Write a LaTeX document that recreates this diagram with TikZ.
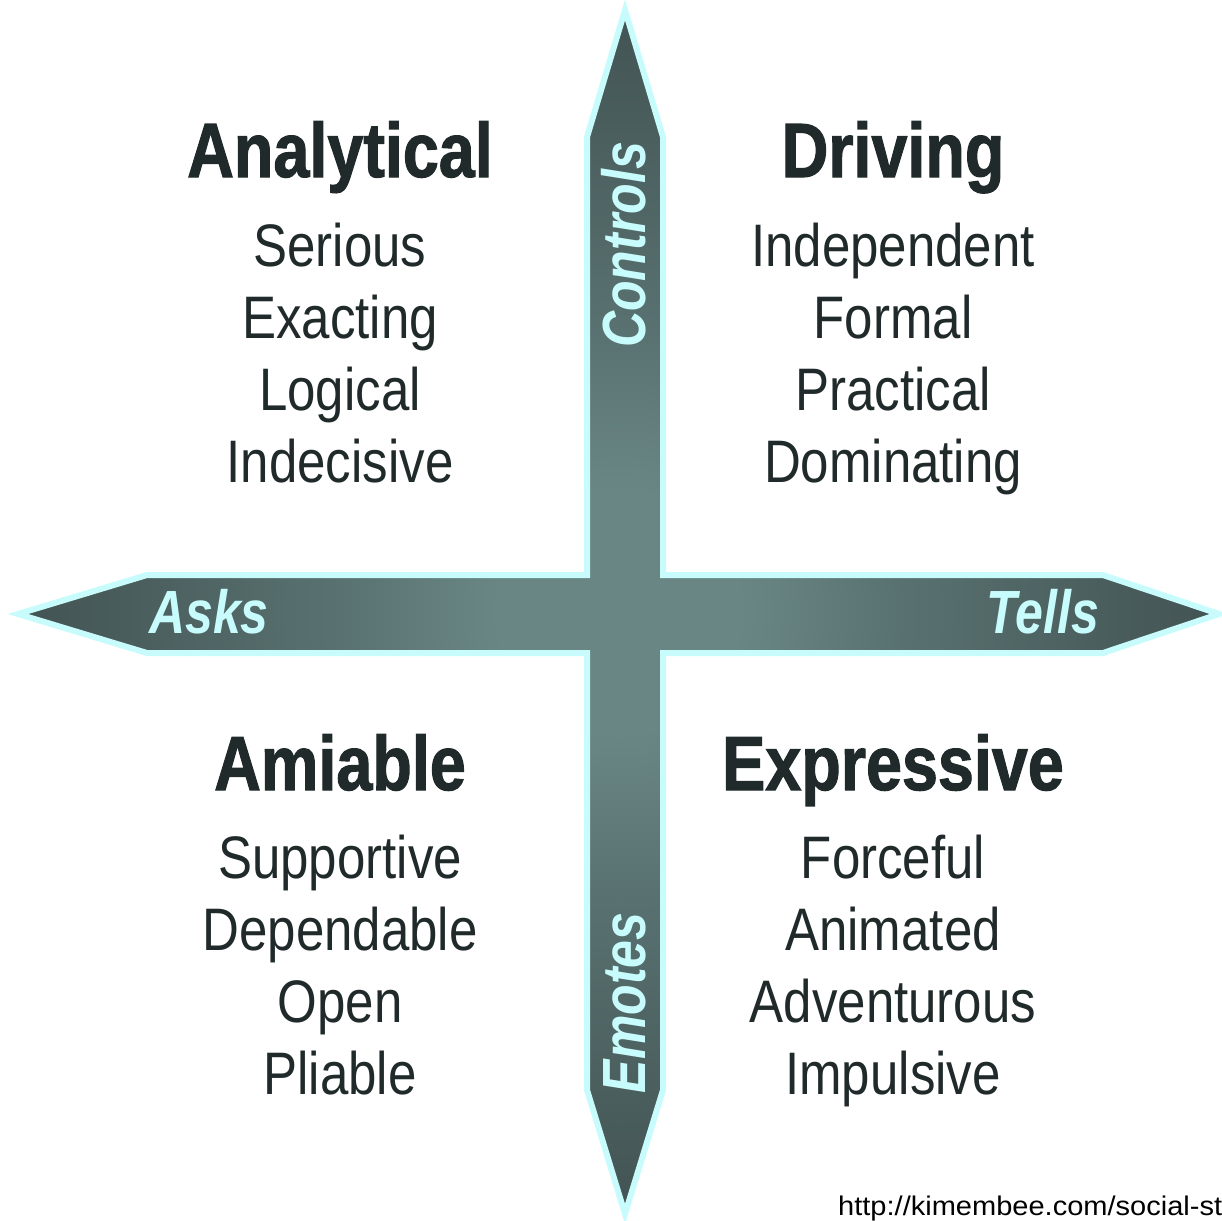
\documentclass[tikz,border=0pt]{standalone}
\usepackage{fontspec}
\setmainfont{Liberation Sans}
\newfontfamily\itemfont[FakeStretch=0.85]{Liberation Sans}
\newfontfamily\headfont[FakeStretch=0.84,FakeBold=1.4]{Liberation Sans}
\newfontfamily\axisfont[FakeStretch=0.82]{Liberation Sans}
\newfontfamily\urlfont[FakeStretch=1.075]{Liberation Sans}
\definecolor{cin}{HTML}{698685}
\definecolor{cmid}{HTML}{587170}
\definecolor{cout}{HTML}{445555}
\definecolor{rim}{HTML}{C8FCFC}
\definecolor{ink}{HTML}{202A2A}
\pgfdeclareradialshading{crossshade}{\pgfpoint{0bp}{0bp}}{color(0bp)=(cin); color(5bp)=(cin); color(12bp)=(cmid); color(24bp)=(cout); color(50bp)=(cout)}
\tikzset{
  heading/.style={anchor=base, text=ink, font=\headfont\bfseries\fontsize{77}{80}\selectfont},
  trait/.style={anchor=base, text=ink, font=\itemfont\fontsize{60}{72}\selectfont},
  axislabel/.style={anchor=base, text=rim, font=\axisfont\bfseries\itshape\fontsize{61}{64}\selectfont},
}
\begin{document}
\begin{tikzpicture}[x=1pt,y=-1pt]
\useasboundingbox (0,0) rectangle (1222,1220);
% cross with four pointed ends
\path[shading=crossshade, draw=rim, line width=6pt, line join=miter]
  (625,10) -- (663,137) -- (663,575) -- (1103,575) -- (1219,614) -- (1103,653)
  -- (663,653) -- (663,1090) -- (625,1214) -- (587,1090) -- (587,653)
  -- (147,653) -- (18,614) -- (147,575) -- (587,575) -- (587,137) -- cycle;
% axis labels
\node[axislabel, rotate=90] (controls) at (645,245) {Controls};
\node[axislabel, rotate=90] (emotes) at (645,1003) {Emotes};
\node[axislabel] (asks) at (209,633) {Asks};
\node[axislabel] (tells) at (1043,633) {Tells};
% quadrant headings
\node[heading] (analytical) at (340,177) {Analytical};
\node[heading] (driving) at (893,177) {Driving};
\node[heading] (amiable) at (340,790) {Amiable};
\node[heading] (expressive) at (893,790) {Expressive};
% traits
\node[trait] (serious) at (340,266) {Serious};
\node[trait] (exacting) at (340,338) {Exacting};
\node[trait] (logical) at (340,410) {Logical};
\node[trait] (indecisive) at (340,482) {Indecisive};
\node[trait] (independent) at (893,266) {Independent};
\node[trait] (formal) at (893,338) {Formal};
\node[trait] (practical) at (893,410) {Practical};
\node[trait] (dominating) at (893,482) {Dominating};
\node[trait] (supportive) at (340,878) {Supportive};
\node[trait] (dependable) at (340,950) {Dependable};
\node[trait] (open) at (340,1022) {Open};
\node[trait] (pliable) at (340,1094) {Pliable};
\node[trait] (forceful) at (893,878) {Forceful};
\node[trait] (animated) at (893,950) {Animated};
\node[trait] (adventurous) at (893,1022) {Adventurous};
\node[trait] (impulsive) at (893,1094) {Impulsive};
% source url, cut by the right edge as in the reference
\node[anchor=base west, inner sep=0pt, text=black, font=\urlfont\fontsize{27}{30}\selectfont] (url) at (838,1215) {http://kimembee.com/social-st};
\end{tikzpicture}
\end{document}
